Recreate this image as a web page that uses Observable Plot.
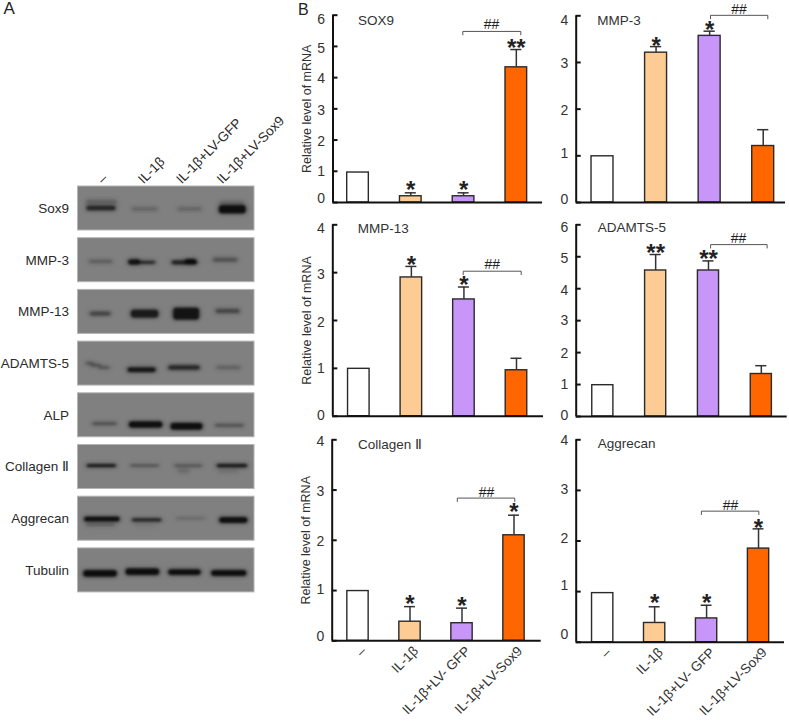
<!DOCTYPE html>
<html>
<head>
<meta charset="utf-8">
<script src="https://cdn.jsdelivr.net/npm/d3@7"></script>
<script src="https://cdn.jsdelivr.net/npm/@observablehq/plot@0.6"></script>
<style>
html,body{margin:0;padding:0;background:#fff}
#fig{position:relative;width:789px;height:723px;overflow:hidden}
#fig svg{position:absolute;overflow:visible;background:transparent}
</style>
</head>
<body>
<div id="fig"></div>
<script>
const FONT = "'Liberation Sans', Arial, sans-serif";
// ---------- Panel A data ----------
const proteins = ["Sox9","MMP-3","MMP-13","ADAMTS-5","ALP","Collagen Ⅱ","Aggrecan","Tubulin"];
const blotGrays = ["#989898","#8f8f8f","#939393","#8e8e8e","#8d8d8d","#8b8b8b","#858585","#8f8f8f"];
const lanes = ["–","IL-1β","IL-1β+LV-GFP","IL-1β+LV-Sox9"];
const laneTicks = [12.5,35.4,57,80];
// each band: [left %, right %, centre (fraction of strip), thickness (fraction of strip), darkness]
const sox9Bands = [[4,23,.36,.12,.35],[4.3,22.3,.5,.13,.8],[30,46,.52,.1,.32],[56,71,.52,.1,.32],[79.4,96,.53,.21,.97],[80,95,.38,.1,.3]];
const mmp3Bands = [[5.7,20.4,.54,.09,.42],[28,36,.55,.14,.95],[33,45,.56,.09,.8],[52.5,68.6,.56,.11,.85],[60,68,.54,.14,.9],[76,91.3,.5,.11,.5]];
const mmp13Bands = [[6.2,19.5,.55,.11,.6],[29.5,46.5,.55,.2,.88],[53.5,69.6,.55,.29,.93],[77.5,92.6,.49,.12,.58]];
const adamtsBands = [[3.8,10,.5,.07,.55],[6.5,14,.55,.07,.55],[11,18.9,.6,.07,.55],[27.6,45,.65,.13,.92],[50.7,70,.6,.12,.8],[78,93,.6,.09,.38]];
const alpBands = [[7.6,23,.7,.07,.62],[28.4,48.8,.72,.16,.97],[52,71.5,.76,.17,.97],[77,95,.74,.07,.6]];
const collagenBands = [[4.3,22.7,.48,.09,.92],[29,47,.48,.05,.7],[54,71.5,.48,.06,.62],[56,64,.6,.1,.28],[78,97,.48,.1,.9],[79,92,.61,.08,.22]];
const aggrecanBands = [[3,24.6,.52,.13,.97],[4,22,.65,.07,.42],[30,48.4,.54,.09,.85],[32,45,.66,.05,.2],[55,73,.5,.06,.36],[79.6,97,.54,.15,.97]];
const tubulinBands = [[2.5,23,.58,.17,.98],[26.5,47,.54,.17,.98],[50.7,70.5,.55,.15,.98],[75,96.4,.57,.15,.98]];
const allBands = [sox9Bands,mmp3Bands,mmp13Bands,adamtsBands,alpBands,collagenBands,aggrecanBands,tubulinBands];
const STRIP = 0.851;

// ---------- Panel B data ----------
const groups = ["–","IL-1β","IL-1β+LV- GFP","IL-1β+LV-Sox9"];
const groupFills = ["#ffffff","#fdcb94","#c896f8","#ff6600"];

const sox9Means = [0.96,0.2,0.2,4.33];
const sox9Tops = [null,0.31,0.31,4.9];
const sox9Stars = [[2,0.55,"*"],[3,0.55,"*"],[4,5.09,"**"]];
const sox9Bracket = [2.986,4.085,5.48];
const sox9Hash = [3.53,5.7];
const sox9LabelShift = [-3.7,0.7,1,1.3,1.3,2.3,4];

const mmp3Means = [0.99,3.21,3.57,1.21];
const mmp3Tops = [null,3.34,3.67,1.56];
const mmp3Stars = [[2,3.46,"*"],[3,3.79,"*"]];
const mmp3Bracket = [3.016,4.086,4.01];
const mmp3Hash = [3.55,4.14];
const mmp3LabelShift = [-3,-2,1,1,5];

const mmp13Means = [0.99,2.9,2.44,0.96];
const mmp13Tops = [null,3.13,2.7,1.21];
const mmp13Stars = [[2,3.25,"*"],[3,2.84,"*"]];
const mmp13Bracket = [2.986,4.09,3.03];
const mmp13Hash = [3.54,3.17];
const mmp13LabelShift = [-0.7,0,2,2.3,4];

const adamtsMeans = [0.98,4.57,4.57,1.33];
const adamtsTops = [null,5.07,4.87,1.59];
const adamtsStars = [[2,5.25,"**"],[3,5.09,"**"]];
const adamtsBracket = [3.04,4.11,5.38];
const adamtsHash = [3.57,5.56];
const adamtsLabelShift = [-1,0,1,0.3,1.7,1.7,2.3];

const collagenMeans = [0.99,0.38,0.35,2.1];
const collagenTops = [null,0.68,0.65,2.5];
const collagenStars = [[2,0.82,"*"],[3,0.79,"*"],[4,2.65,"*"]];
const collagenBracket = [2.91,4.015,2.84];
const collagenHash = [3.47,2.95];
const collagenLabelShift = [-4.7,-1,1.7,1,1.3];

const aggrecanMeans = [0.97,0.38,0.47,1.85];
const aggrecanTops = [null,0.7,0.73,2.24];
const aggrecanStars = [[2,0.87,"*"],[3,0.87,"*"],[4,2.35,"*"]];
const aggrecanBracket = [2.9,4.006,2.59];
const aggrecanHash = [3.46,2.7];
const aggrecanLabelShift = [-7.7,-5.7,-2,-1.3,0.7];

const fig = document.getElementById("fig");
function place(svg, left, top){ svg.style.left = left+"px"; svg.style.top = top+"px"; fig.appendChild(svg); }

// ---------- Panel A ----------
const stripRows = proteins.map((p,i)=>({row:i,name:p,gray:blotGrays[i]}));
const bandRows = allBands.flatMap((bs,i)=>bs.map(b=>({x1:b[0],x2:b[1],y1:i+(b[2]-b[3]/2)*STRIP,y2:i+(b[2]+b[3]/2)*STRIP,d:b[4]})));
const blot = Plot.plot({
  width:290, height:623, marginLeft:77.5, marginRight:36, marginTop:186, marginBottom:23.4,
  style:{fontFamily:FONT,fontSize:"13.5px",background:"transparent",color:"#2b2b2b"},
  x:{domain:[0,100]}, y:{domain:[8,0]},
  marks:[
    Plot.rect(stripRows,{x1:0,x2:100,y1:d=>d.row,y2:d=>d.row+STRIP,fill:"gray",stroke:"#b4b4b4",strokeWidth:1}),
    Plot.rect(bandRows,{x1:"x1",x2:"x2",y1:"y1",y2:"y2",fill:"#0c0c0c",fillOpacity:d=>d.d*0.55,rx:4,imageFilter:"blur(2.2px)"}),
    Plot.rect(bandRows,{x1:"x1",x2:"x2",y1:"y1",y2:"y2",fill:"#050505",fillOpacity:d=>d.d*d.d*0.9,rx:3,insetTop:0.6,insetBottom:0.6,insetLeft:1.5,insetRight:1.5,imageFilter:"blur(1px)"}),
    Plot.axisY({ticks:proteins.map((p,i)=>i+STRIP/2),tickFormat:t=>proteins[Math.round(t-STRIP/2)],tickSize:0,tickPadding:9,label:null}),
    Plot.axisX({anchor:"top",ticks:laneTicks,tickFormat:t=>lanes[laneTicks.indexOf(t)],tickSize:0,tickPadding:5,tickRotate:-45,label:null}),
    Plot.text(["A"],{frameAnchor:"top-left",dx:-74.5,dy:-184.5,fontSize:17,fill:"#222",lineAnchor:"top",textAnchor:"start"})
  ]
});
place(blot,0,0);

// ---------- Panel B ----------
function panel(cfg){
  const rows = groups.map((g,i)=>({pos:i+1,name:g,mean:cfg.means[i],top:cfg.tops[i],fill:groupFills[i]}));
  const errs = rows.filter(r=>r.top!=null);
  const stars = cfg.stars.map(s=>({x:s[0],y:s[1],t:s[2]}));
  const [bx1,bx2,by] = cfg.bracket;
  const drop = cfg.yMax*3.4/(cfg.y0-cfg.yTop);
  const bracket = [{x:bx1,y:by-drop},{x:bx1,y:by},{x:bx2,y:by},{x:bx2,y:by-drop}];
  const tickVals = d3.range(0,cfg.yMax+1);
  const marks = [
    Plot.rect(rows,{x1:d=>d.pos-cfg.half,x2:d=>d.pos+cfg.half,y1:0,y2:"mean",fill:"fill",stroke:"#2a2a2a",strokeWidth:1.4}),
    Plot.ruleX(errs,{x:"pos",y1:"mean",y2:"top",stroke:"#333",strokeWidth:1.5}),
    Plot.ruleY(errs,{y:"top",x1:d=>d.pos-0.105,x2:d=>d.pos+0.105,stroke:"#333",strokeWidth:1.5}),
    Plot.ruleX([cfg.xDomain[0]],{y1:0,y2:cfg.yMax,stroke:"#111",strokeWidth:2}),
    Plot.ruleY([0],{x1:cfg.xDomain[0],x2:cfg.xDomain[1],stroke:"#111",strokeWidth:2}),
    Plot.axisY({ticks:tickVals,tickFormat:()=>"",tickSize:-5,tickPadding:13,strokeWidth:2,stroke:"#111",label:null}),
    ...(cfg.yLabel ? [Plot.axisY({ticks:[],label:"Relative level of mRNA",labelAnchor:"center",labelArrow:"none",labelOffset:31,fontSize:12.5,dy:cfg.labelDy||0})] : []),
    ...tickVals.map(t=>Plot.axisY({ticks:[t],tickFormat:d=>d,tickSize:0,tickPadding:8,dy:cfg.labelShift[t],label:null,fontSize:14})),
    cfg.bottom
      ? Plot.axisX({ticks:[1,2,3,4],tickFormat:t=>groups[t-1],tickSize:0,tickPadding:8,tickRotate:-45,label:null,dx:6})
      : Plot.axisX({ticks:[],label:null}),
    Plot.text([cfg.title],{x:cfg.titleAt[0],y:cfg.titleAt[1],text:d=>d,textAnchor:"start",fontSize:13.5,fill:"#333"}),
    Plot.text(stars,{x:"x",y:"y",text:"t",fontSize:24,fontWeight:"bold",fill:"#222",dy:5}),
    Plot.line(bracket,{x:"x",y:"y",stroke:"#555",strokeWidth:1}),
    Plot.text(["##"],{x:cfg.hash[0],y:cfg.hash[1],text:d=>d,fontSize:14,fill:"#222"})
  ];
  if(cfg.letter) marks.push(Plot.text([cfg.letter],{frameAnchor:"top-left",dx:-35,dy:-12,fontSize:16,fill:"#222",lineAnchor:"top",textAnchor:"start"}));
  const svg = Plot.plot({
    width:cfg.width, height:cfg.height,
    marginLeft:cfg.axisX-cfg.left, marginRight:cfg.left+cfg.width-cfg.right,
    marginTop:cfg.yTop-cfg.top, marginBottom:cfg.top+cfg.height-cfg.y0,
    style:{fontFamily:FONT,fontSize:"13.5px",background:"transparent",color:"#333"},
    x:{domain:cfg.xDomain}, y:{domain:[0,cfg.yMax]},
    marks
  });
  place(svg,cfg.left,cfg.top);
}
panel({title:"SOX9",titleAt:[1.0,5.82],letter:"B",means:sox9Means,tops:sox9Tops,stars:sox9Stars,bracket:sox9Bracket,hash:sox9Hash,labelShift:sox9LabelShift,yMax:6,yLabel:true,labelDy:-4.5,
  left:290,top:0,width:255,height:215,axisX:332.5,right:542,yTop:14.7,y0:202,xDomain:[0.526,4.496],half:0.205});
panel({title:"MMP-3",titleAt:[0.9,3.9],means:mmp3Means,tops:mmp3Tops,stars:mmp3Stars,bracket:mmp3Bracket,hash:mmp3Hash,labelShift:mmp3LabelShift,yMax:4,
  left:545,top:0,width:244,height:215,axisX:575.7,right:785,yTop:15.3,y0:202,xDomain:[0.509,4.416],half:0.205});
panel({title:"MMP-13",titleAt:[0.98,3.92],means:mmp13Means,tops:mmp13Tops,stars:mmp13Stars,bracket:mmp13Bracket,hash:mmp13Hash,labelShift:mmp13LabelShift,yMax:4,yLabel:true,
  left:290,top:215,width:255,height:215,axisX:332.3,right:543,yTop:224.3,y0:415.7,xDomain:[0.505,4.514],half:0.205});
panel({title:"ADAMTS-5",titleAt:[0.905,5.9],means:adamtsMeans,tops:adamtsTops,stars:adamtsStars,bracket:adamtsBracket,hash:adamtsHash,labelShift:adamtsLabelShift,yMax:6,
  left:545,top:215,width:244,height:215,axisX:575.7,right:786.7,yTop:224.3,y0:416,xDomain:[0.496,4.49],half:0.2});
panel({title:"Collagen Ⅱ",titleAt:[1.0,3.9],means:collagenMeans,tops:collagenTops,stars:collagenStars,bracket:collagenBracket,hash:collagenHash,labelShift:collagenLabelShift,yMax:4,yLabel:true,bottom:true,
  left:290,top:430,width:255,height:293,axisX:331.7,right:540.7,yTop:439.3,y0:640.3,xDomain:[0.504,4.523],half:0.205});
panel({title:"Aggrecan",titleAt:[0.905,3.92],means:aggrecanMeans,tops:aggrecanTops,stars:aggrecanStars,bracket:aggrecanBracket,hash:aggrecanHash,labelShift:aggrecanLabelShift,yMax:4,bottom:true,
  left:545,top:430,width:244,height:293,axisX:575.7,right:784,yTop:439.3,y0:641.7,xDomain:[0.49,4.5],half:0.205});
</script>
</body>
</html>
